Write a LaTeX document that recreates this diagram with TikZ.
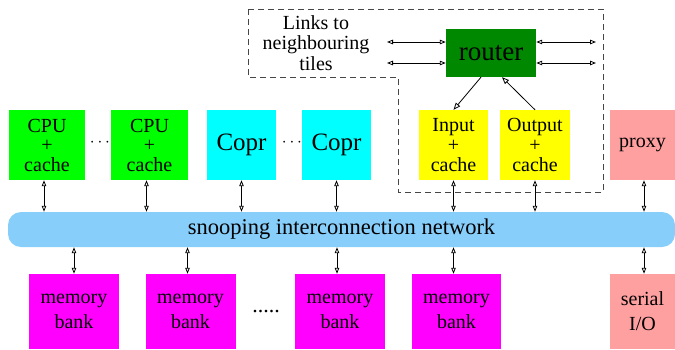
\documentclass[tikz,border=0pt]{standalone}
\usepackage{fontspec}
\setmainfont{Liberation Serif}
\usetikzlibrary{arrows.meta}
\usetikzlibrary{positioning}
\definecolor{cpugreen}{RGB}{0,255,0}
\definecolor{coprcyan}{RGB}{0,255,255}
\definecolor{cacheyellow}{RGB}{255,255,0}
\definecolor{routergreen}{RGB}{0,136,0}
\definecolor{proxypink}{RGB}{255,160,160}
\definecolor{memmagenta}{RGB}{255,0,255}
\definecolor{busblue}{RGB}{135,206,250}
\definecolor{dashgray}{RGB}{70,70,70}
\tikzset{
unit/.style = { rectangle, draw = none, inner sep = 0pt, minimum height = 70pt, align = center, font = \fontsize{20}{19.5}\selectfont },
cpu/.style = { unit, fill = cpugreen, minimum width = 76pt },
copr/.style = { unit, fill = coprcyan, minimum width = 69pt, font = \fontsize{25}{25}\selectfont },
tilecache/.style = { unit, fill = cacheyellow, minimum width = 69pt, font = \fontsize{20}{20}\selectfont },
memory/.style = { unit, fill = memmagenta, minimum width = 90pt, minimum height = 75pt, font = \fontsize{20}{25}\selectfont },
io/.style = { unit, fill = proxypink, minimum width = 65pt },
link/.style = { {Triangle[open, length = 6pt, width = 4.5pt, line width = 0.8pt]}-{Triangle[open, length = 6pt, width = 4.5pt, line width = 0.8pt]}, line width = 0.8pt },
oneway/.style = { -{Triangle[open, length = 7pt, width = 5.5pt, line width = 0.8pt]}, line width = 0.8pt },
}

\begin{document}
\begin{tikzpicture}[x = 1pt, y = -1pt]
    \useasboundingbox (0, 0) rectangle (675, 349);
    % tile boundary
    \draw[dashgray, line width = 0.9pt, dash pattern = on 6pt off 4pt] (248, 9) -- (603, 9) -- (603, 192) -- (398, 192) -- (398, 77) -- (248, 77) -- cycle;
    \node[align = center, font = \fontsize{20}{20.5}\selectfont] (lnk) at (316, 43) {Links to\\neighbouring\\tiles};
    \node[rectangle, fill = routergreen, minimum width = 90pt, minimum height = 48pt, font = \fontsize{27}{27}\selectfont] (rtr) at (491, 53) {router};
    % top row
    \node[cpu] (cpu1) at (47, 145) {CPU\\+\\cache};
    \node[cpu, minimum width = 77pt] (cpu2) at (149.5, 145) {CPU\\+\\cache};
    \node[copr] (copr1) at (241.5, 145) {Copr};
    \node[copr] (copr2) at (336.5, 145) {Copr};
    \node[tilecache] (inp) at (453.5, 145) {Input\\+\\cache};
    \node[tilecache, minimum width = 70pt] (outp) at (535, 145) {Output\\+\\cache};
    \node[io] (proxy) at (642.5, 145) {proxy};
    \node[font = \fontsize{17}{17}\selectfont, inner sep = 0pt] (dots1) at (100, 143) {$\cdots$};
    \node[font = \fontsize{17}{17}\selectfont, inner sep = 0pt] (dots2) at (292, 143) {$\cdots$};
    % bus
    \node[rectangle, rounded corners = 13pt, fill = busblue, minimum width = 667pt, minimum height = 35pt, inner sep = 0pt, font = \fontsize{22.5}{22.5}\selectfont] (bus) at (341.5, 229.5) {snooping interconnection network};
    % bottom row
    \node[memory] (mem1) at (74, 311.5) {memory\\bank};
    \node[memory] (mem2) at (190.5, 311.5) {memory\\bank};
    \node[memory] (mem3) at (340, 311.5) {memory\\bank};
    \node[memory, minimum width = 89pt] (mem4) at (456.5, 311.5) {memory\\bank};
    \node[io, minimum height = 75pt, font = \fontsize{20}{25}\selectfont] (sio) at (642.5, 311.5) {serial\\I/O};
    \node[font = \fontsize{22}{22}\selectfont] (dots3) at (266, 312) {.....};
    % links to neighbouring tiles
    \coordinate (wa) at (387, 42);
    \coordinate (wb) at (387, 63);
    \coordinate (ea) at (596, 42);
    \coordinate (eb) at (596, 63);
    \draw[link] (wa) -- (wa -| rtr.west);
    \draw[link] (wb) -- (wb -| rtr.west);
    \draw[link] (ea -| rtr.east) -- (ea);
    \draw[link] (eb -| rtr.east) -- (eb);
    \draw[oneway] ([xshift = -10pt]rtr.south) -- (inp.north);
    \draw[oneway] (outp.north) -- ([xshift = 11pt]rtr.south);
    % to and from the bus
    \draw[link] ([xshift = -3pt]cpu1.south) -- ([xshift = -3pt]cpu1.south |- bus.north);
    \draw[link] ([xshift = -3pt]cpu2.south) -- ([xshift = -3pt]cpu2.south |- bus.north);
    \draw[link] (copr1.south) -- (copr1.south |- bus.north);
    \draw[link] (copr2.south) -- (copr2.south |- bus.north);
    \draw[link] (inp.south) -- (inp.south |- bus.north);
    \draw[link] (outp.south) -- (outp.south |- bus.north);
    \draw[link] ([xshift = 1.5pt]proxy.south) -- ([xshift = 1.5pt]proxy.south |- bus.north);
    \draw[link] (bus.south -| mem1.north) -- (mem1.north);
    \draw[link] ([xshift = -3pt]bus.south -| mem2.north) -- ([xshift = -3pt]mem2.north);
    \draw[link] ([xshift = -3pt]bus.south -| mem3.north) -- ([xshift = -3pt]mem3.north);
    \draw[link] ([xshift = -3pt]bus.south -| mem4.north) -- ([xshift = -3pt]mem4.north);
    \draw[link] ([xshift = 1.5pt]bus.south -| sio.north) -- ([xshift = 1.5pt]sio.north);
\end{tikzpicture}
\end{document}
